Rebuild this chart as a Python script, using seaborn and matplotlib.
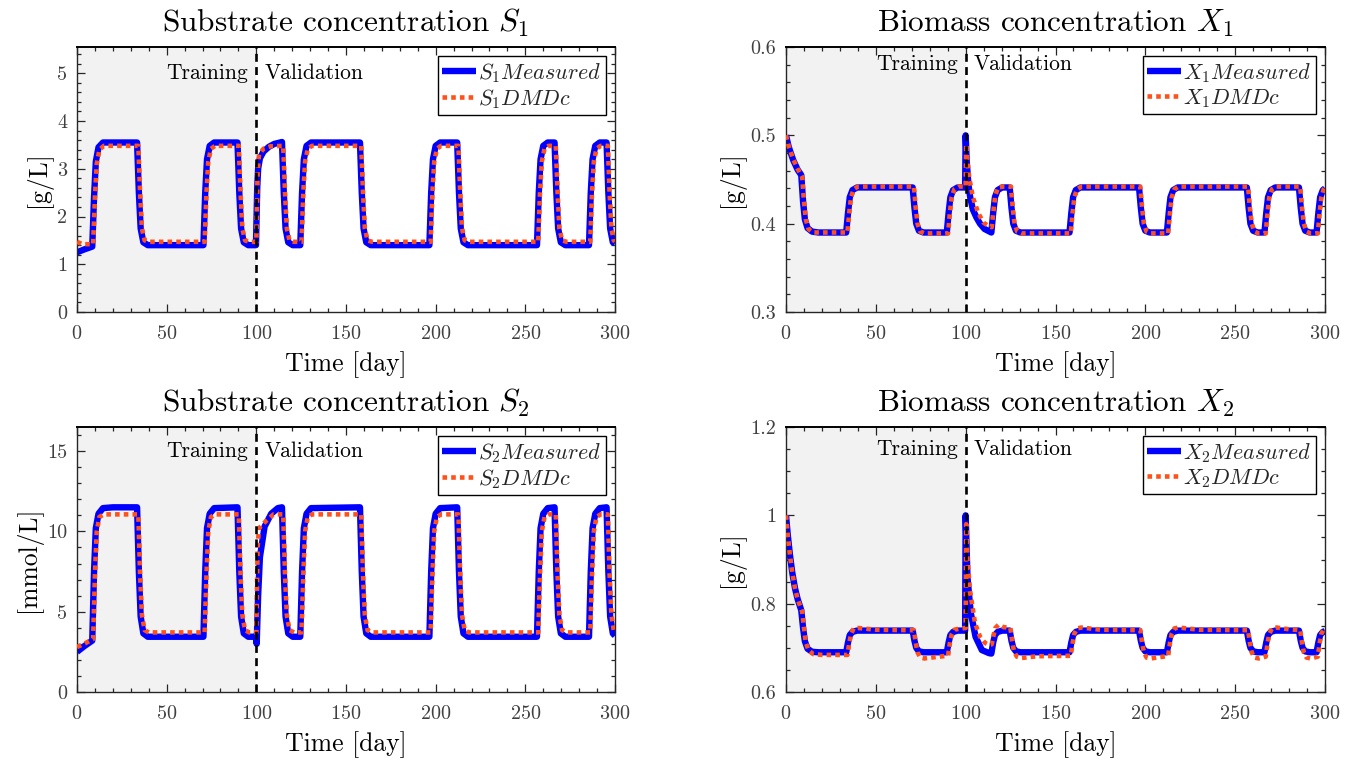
import numpy as np
import matplotlib
matplotlib.use("Agg")
import matplotlib.pyplot as plt
import seaborn as sns
import pandas as pd
from matplotlib.ticker import MultipleLocator, FixedLocator, FixedFormatter

# ---------------- data ----------------
# (time [day], value) knots
S1_measured = [(0,1.25),(4,1.31),(8.5,1.37),
    (9.5,2.4),(10.5,3.15),(12,3.45),(14.5,3.55),
    (33.5,3.55),(34.5,2.5),(35.5,1.75),(37,1.46),(39.5,1.4),
    (70.5,1.4),(71.5,2.5),(72.5,3.2),(74,3.48),(76.5,3.55),
    (89.5,3.55),(90.5,2.5),(91.5,1.75),(93,1.46),(95.5,1.4),
    (99.8,1.4),(100.5,2.6),(101,3.0),(102,3.22),(104,3.36),(107,3.46),(110,3.52),(114.3,3.56),
    (115.3,2.5),(116.3,1.75),(117.8,1.46),(120.3,1.4),
    (124.5,1.4),(125.5,2.5),(126.5,3.2),(128,3.48),(130.5,3.55),
    (157.8,3.55),(158.8,2.5),(159.8,1.75),(161.3,1.46),(163.8,1.4),
    (196.5,1.4),(197.5,2.5),(198.5,3.2),(200,3.48),(202.5,3.55),
    (212,3.55),(213,2.5),(214,1.75),(215.5,1.46),(218,1.4),
    (256.5,1.4),(257.5,2.5),(258.5,3.2),(260,3.48),(262.5,3.55),
    (266.3,3.55),(267.3,2.5),(268.3,1.75),(269.8,1.46),(272.3,1.4),
    (285.5,1.4),(286.5,2.5),(287.5,3.2),(289,3.48),(291.5,3.55),
    (295.3,3.55),(296.3,2.5),(297.3,1.75),(298.8,1.46),(300,1.44)]

S1_dmdc = [(0,1.47),(3,1.42),(9,1.42),
    (10,2.4),(11,3.1),(12.5,3.4),(15,3.48),
    (34.2,3.48),(35.2,2.5),(36.2,1.75),(37.7,1.5),(40,1.47),
    (71.2,1.47),(72.2,2.5),(73.2,3.15),(74.7,3.42),(77,3.48),
    (90.2,3.48),(91.2,2.5),(92.2,1.75),(93.7,1.5),(96,1.47),
    (100,1.47),(100.7,2.9),(101.5,3.3),(104,3.42),(108,3.47),(115,3.48),
    (116,2.5),(117,1.75),(118.5,1.5),(121,1.47),
    (125.2,1.47),(126.2,2.5),(127.2,3.15),(128.7,3.42),(131,3.48),
    (158.5,3.48),(159.5,2.5),(160.5,1.75),(162,1.5),(164.5,1.47),
    (197.2,1.47),(198.2,2.5),(199.2,3.15),(200.7,3.42),(203,3.48),
    (212.7,3.48),(213.7,2.5),(214.7,1.75),(216.2,1.5),(218.5,1.47),
    (257.2,1.47),(258.2,2.5),(259.2,3.15),(260.7,3.42),(263,3.48),
    (267,3.48),(268,2.5),(269,1.75),(270.5,1.5),(273,1.47),
    (286.2,1.47),(287.2,2.5),(288.2,3.15),(289.7,3.42),(292,3.48),
    (296,3.48),(297,2.5),(298,1.75),(299.3,1.5),(300,1.48)]

S2_measured = [(0,2.5),(4,2.85),(8.5,3.2),
    (9.5,7.5),(10.5,10.2),(12,11.1),(14.5,11.45),(20,11.5),
    (33.5,11.5),(34.5,7.5),(35.5,4.7),(37,3.65),(39.5,3.44),
    (70.5,3.44),(71.5,7.5),(72.5,10.2),(74,11.1),(76.5,11.45),
    (89.5,11.5),(90.5,7.5),(91.5,4.7),(93,3.65),(95.5,3.44),
    (99.7,3.44),(100.2,3.0),(101,6.0),(102,8.4),(104.6,10.3),(108.3,11.1),(112,11.45),(114.3,11.5),
    (115.3,7.5),(116.3,4.7),(117.8,3.65),(120.3,3.44),
    (124.5,3.44),(125.5,7.5),(126.5,10.2),(128,11.1),(130.5,11.45),
    (157.8,11.5),(158.8,7.5),(159.8,4.7),(161.3,3.65),(163.8,3.44),
    (196.5,3.44),(197.5,7.5),(198.5,10.2),(200,11.1),(202.5,11.45),
    (212,11.5),(213,7.5),(214,4.7),(215.5,3.65),(218,3.44),
    (256.5,3.44),(257.5,7.5),(258.5,10.2),(260,11.1),(262.5,11.45),
    (266.3,11.5),(267.3,7.5),(268.3,4.7),(269.8,3.65),(272.3,3.44),
    (285.5,3.44),(286.5,7.5),(287.5,10.2),(289,11.1),(291.5,11.45),
    (295.3,11.5),(296.3,7.5),(297.3,4.7),(298.8,3.65),(300,3.5)]

S2_dmdc = [(0,2.8),(4,3.0),(9,3.3),
    (10,7.3),(11,10.0),(12.5,10.9),(15,11.06),
    (34.2,11.06),(35.2,7.3),(36.2,4.8),(37.7,3.85),(40,3.71),
    (71.2,3.71),(72.2,7.3),(73.2,10.0),(74.7,10.9),(77,11.06),
    (90.2,11.06),(91.2,7.3),(92.2,4.8),(93.7,3.85),(96,3.71),
    (100,3.71),(100.7,9.0),(101.5,10.2),(105.9,10.7),(109.6,11.06),(115,11.06),
    (116,7.3),(117,4.8),(118.5,3.85),(121,3.71),
    (125.2,3.71),(126.2,7.3),(127.2,10.0),(128.7,10.9),(131,11.06),
    (158.5,11.06),(159.5,7.3),(160.5,4.8),(162,3.85),(164.5,3.71),
    (197.2,3.71),(198.2,7.3),(199.2,10.0),(200.7,10.9),(203,11.06),
    (212.7,11.06),(213.7,7.3),(214.7,4.8),(216.2,3.85),(218.5,3.71),
    (257.2,3.71),(258.2,7.3),(259.2,10.0),(260.7,10.9),(263,11.06),
    (267,11.06),(268,7.3),(269,4.8),(270.5,3.85),(273,3.71),
    (286.2,3.71),(287.2,7.3),(288.2,10.0),(289.7,10.9),(292,11.06),
    (296,11.06),(297,7.3),(298,4.8),(299.3,3.85),(300,3.75)]

X1_measured = [(0,0.5),(1.5,0.487),(4,0.472),(6.5,0.461),(8.5,0.455),
    (9.5,0.425),(10.5,0.405),(12,0.395),(14.5,0.391),(18,0.39),
    (33.5,0.39),(34.5,0.412),(35.5,0.43),(37,0.438),(39.5,0.441),
    (70.5,0.441),(71.5,0.418),(72.5,0.4),(74,0.392),(76.5,0.39),
    (89.5,0.39),(90.5,0.412),(91.5,0.43),(93,0.438),(95.5,0.441),
    (99.7,0.441),(100,0.5),(100.6,0.47),(101.5,0.445),(102.5,0.43),(104,0.416),(106,0.407),(108,0.4),(110.5,0.394),(114.3,0.39),
    (115.3,0.412),(116.3,0.43),(117.8,0.438),(120.3,0.441),
    (124.5,0.441),(125.5,0.418),(126.5,0.4),(128,0.392),(130.5,0.39),
    (157.8,0.39),(158.8,0.412),(159.8,0.43),(161.3,0.438),(163.8,0.441),
    (196.5,0.441),(197.5,0.418),(198.5,0.4),(200,0.392),(202.5,0.39),
    (212,0.39),(213,0.412),(214,0.43),(215.5,0.438),(218,0.441),
    (256.5,0.441),(257.5,0.418),(258.5,0.4),(260,0.392),(262.5,0.39),
    (266.3,0.39),(267.3,0.412),(268.3,0.43),(269.8,0.438),(272.3,0.441),
    (285.5,0.441),(286.5,0.418),(287.5,0.4),(289,0.392),(291.5,0.39),
    (295.3,0.39),(296.3,0.412),(297.3,0.43),(298.8,0.438),(300,0.44)]

X1_dmdc = [(0,0.5),(1.5,0.488),(4,0.473),(6.5,0.462),(9,0.453),
    (10,0.425),(11,0.405),(12.5,0.394),(15,0.39),
    (34.2,0.39),(35.2,0.412),(36.2,0.43),(37.7,0.439),(40,0.442),
    (71.2,0.442),(72.2,0.418),(73.2,0.4),(74.7,0.391),(77,0.389),
    (90.2,0.389),(91.2,0.412),(92.2,0.43),(93.7,0.439),(96,0.442),
    (100,0.442),(100.3,0.49),(101,0.47),(102,0.452),(104,0.43),(107,0.412),(110,0.401),(113,0.397),(114.5,0.396),
    (115.5,0.415),(116.5,0.432),(118,0.441),(121,0.442),
    (125.2,0.442),(126.2,0.418),(127.2,0.4),(128.7,0.391),(131,0.389),
    (158.5,0.389),(159.5,0.412),(160.5,0.43),(162,0.439),(164.5,0.442),
    (197.2,0.442),(198.2,0.418),(199.2,0.4),(200.7,0.391),(203,0.389),
    (212.7,0.389),(213.7,0.412),(214.7,0.43),(216.2,0.439),(218.5,0.442),
    (257.2,0.442),(258.2,0.418),(259.2,0.4),(260.7,0.391),(263,0.389),
    (267,0.389),(268,0.412),(269,0.43),(270.5,0.439),(273,0.442),
    (286.2,0.442),(287.2,0.418),(288.2,0.4),(289.7,0.391),(292,0.389),
    (296,0.389),(297,0.412),(298,0.43),(299.3,0.439),(300,0.441)]

X2_measured = [(0,1.0),(1,0.955),(2.2,0.91),(3.5,0.87),(5,0.835),(6.5,0.81),(8.5,0.785),
    (9.5,0.745),(10.5,0.715),(12,0.698),(14.5,0.691),(18,0.69),
    (33.5,0.69),(34.5,0.712),(35.5,0.729),(37,0.736),(39.5,0.739),
    (70.5,0.739),(71.5,0.716),(72.5,0.7),(74,0.692),(76.5,0.69),
    (89.5,0.69),(90.5,0.712),(91.5,0.729),(93,0.736),(95.5,0.739),
    (99.7,0.739),(100,1.0),(101,0.86),(102.8,0.78),(105.5,0.725),(109,0.695),(113,0.688),(114.3,0.687),
    (115.3,0.712),(116.3,0.729),(117.8,0.736),(120.3,0.739),
    (124.5,0.739),(125.5,0.716),(126.5,0.7),(128,0.692),(130.5,0.69),
    (157.8,0.69),(158.8,0.712),(159.8,0.729),(161.3,0.736),(163.8,0.739),
    (196.5,0.739),(197.5,0.716),(198.5,0.7),(200,0.692),(202.5,0.69),
    (212,0.69),(213,0.712),(214,0.729),(215.5,0.736),(218,0.739),
    (256.5,0.739),(257.5,0.716),(258.5,0.7),(260,0.692),(262.5,0.69),
    (266.3,0.69),(267.3,0.712),(268.3,0.729),(269.8,0.736),(272.3,0.739),
    (285.5,0.739),(286.5,0.716),(287.5,0.7),(289,0.692),(291.5,0.69),
    (295.3,0.69),(296.3,0.712),(297.3,0.729),(298.8,0.736),(300,0.738)]

X2_dmdc = [(0,1.0),(1,0.955),(2.2,0.91),(3.5,0.87),(5,0.835),(6.5,0.81),(9,0.782),
    (10,0.745),(11,0.712),(12.5,0.695),(15,0.686),(20,0.684),
    (34.2,0.684),(35.2,0.71),(36.2,0.732),(37.7,0.744),(40,0.745),(50,0.741),
    (71.2,0.74),(72.2,0.712),(73.2,0.69),(74.7,0.678),(77,0.676),(85,0.68),
    (90.2,0.682),(91.2,0.71),(92.2,0.73),(93.7,0.741),(96,0.743),
    (100,0.745),(100.3,0.98),(101,0.9),(102.4,0.83),(105.2,0.756),(108,0.725),(110.8,0.711),(113,0.707),(114.5,0.708),
    (115.5,0.728),(116.5,0.745),(118.2,0.752),(121,0.747),(124.9,0.745),
    (125.9,0.715),(126.9,0.692),(128.5,0.68),(131,0.677),(140,0.681),
    (158.5,0.682),(159.5,0.71),(160.5,0.732),(162,0.744),(164.5,0.746),(175,0.741),
    (197.2,0.74),(198.2,0.712),(199.2,0.69),(200.7,0.678),(203,0.676),(210,0.68),
    (212.7,0.682),(213.7,0.71),(214.7,0.732),(216.2,0.744),(218.5,0.746),(230,0.741),
    (257.2,0.74),(258.2,0.712),(259.2,0.69),(260.7,0.678),(263,0.676),(266,0.679),
    (267,0.68),(268,0.71),(269,0.732),(270.5,0.744),(273,0.746),(280,0.742),
    (286.2,0.74),(287.2,0.712),(288.2,0.69),(289.7,0.678),(292,0.676),(295,0.679),
    (296,0.68),(297,0.71),(298,0.732),(299.3,0.742),(300,0.743)]

titles = ["Substrate concentration $S_1$", "Biomass concentration $X_1$",
          "Substrate concentration $S_2$", "Biomass concentration $X_2$"]
ylabels = ["[g/L]", "[g/L]", "[mmol/L]", "[g/L]"]
legend_measured = ["$S_1Measured$", "$X_1Measured$", "$S_2Measured$", "$X_2Measured$"]
legend_dmdc = ["$S_1DMDc$", "$X_1DMDc$", "$S_2DMDc$", "$X_2DMDc$"]
ylims = [(0, 5.55), (0.3, 0.6), (0, 16.5), (0.6, 1.2)]
yticks = [[0, 1, 2, 3, 4, 5], [0.3, 0.4, 0.5, 0.6], [0, 5, 10, 15], [0.6, 0.8, 1.0, 1.2]]
yticklabels = [["0", "1", "2", "3", "4", "5"], ["0.3", "0.4", "0.5", "0.6"],
               ["0", "5", "10", "15"], ["0.6", "0.8", "1", "1.2"]]
yminor = [0.2, 0.02, 1.0, 0.05]
text_y = [5.0, 0.58, 15.0, 1.15]
xticks = [0, 50, 100, 150, 200, 250, 300]
split_day = 100

# ---------------- style ----------------
sns.set_theme(style="ticks")
plt.rcParams["font.family"] = ["cmr10", "DejaVu Serif"]
plt.rcParams["mathtext.fontset"] = "cm"
plt.rcParams["axes.formatter.use_mathtext"] = True
plt.rcParams["axes.unicode_minus"] = False

AX_COL = "#262626"
BLUE = "#0000FF"
ORANGE = "#FF5119"

fig = plt.figure(figsize=(13.57, 7.6), dpi=100)
rects = [[0.05674, 0.58947, 0.39646, 0.34868],
         [0.57922, 0.58947, 0.39720, 0.34868],
         [0.05674, 0.08947, 0.39646, 0.34868],
         [0.57922, 0.08947, 0.39720, 0.34868]]
series = [(S1_measured, S1_dmdc), (X1_measured, X1_dmdc),
          (S2_measured, S2_dmdc), (X2_measured, X2_dmdc)]

for i, rect in enumerate(rects):
    ax = fig.add_axes(rect)
    meas, dmdc = series[i]
    dm = pd.DataFrame(meas, columns=["t", "v"])
    dd = pd.DataFrame(dmdc, columns=["t", "v"])

    ax.axvspan(0, split_day, color="#F2F2F2", zorder=0, lw=0)
    sns.lineplot(data=dm, x="t", y="v", ax=ax, color=BLUE, lw=4.6,
                 estimator=None, sort=False, label=legend_measured[i],
                 solid_joinstyle="round", solid_capstyle="butt", zorder=2)
    sns.lineplot(data=dd, x="t", y="v", ax=ax, color=ORANGE, lw=3.3,
                 estimator=None, sort=False, label=legend_dmdc[i], zorder=3)
    ax.lines[-1].set_dashes((1.0, 0.9))
    ax.lines[-1].set_dash_capstyle("butt")
    ax.axvline(split_day, color="black", lw=1.9, ls=(0, (3, 2.0)), zorder=4)

    ax.text(split_day - 4.5, text_y[i], "Training", ha="right", va="center",
            fontsize=15.5, color="black")
    ax.text(split_day + 4.5, text_y[i], "Validation", ha="left", va="center",
            fontsize=15.5, color="black")

    ax.set_xlim(0, 300)
    ax.set_ylim(*ylims[i])
    ax.xaxis.set_major_locator(FixedLocator(xticks))
    ax.xaxis.set_minor_locator(MultipleLocator(10))
    ax.yaxis.set_major_locator(FixedLocator(yticks[i]))
    ax.yaxis.set_major_formatter(FixedFormatter(yticklabels[i]))
    ax.yaxis.set_minor_locator(MultipleLocator(yminor[i]))
    ax.tick_params(which="both", direction="in", top=True, right=True,
                   colors=AX_COL, labelcolor="#404040", width=0.9)
    ax.tick_params(which="major", length=5.5, labelsize=14.5)
    ax.tick_params(axis="x", which="major", pad=9.5)
    ax.tick_params(axis="y", which="major", pad=7)
    ax.tick_params(which="minor", length=2.8)
    for s in ax.spines.values():
        s.set_color(AX_COL)
        s.set_linewidth(1.0)
    ax.spines["top"].set_color("black")
    ax.spines["top"].set_linewidth(1.4)

    ax.set_title(titles[i], fontsize=22.5, pad=11, color="black")
    ax.set_xlabel("Time [day]", fontsize=18.5, labelpad=6, color="black")
    ax.set_ylabel(ylabels[i], fontsize=18.5, labelpad=4, color="black")

    leg = ax.legend(loc="upper right", fontsize=16, frameon=True, fancybox=False,
                    edgecolor="black", framealpha=1, handlelength=1.5,
                    handletextpad=0.1, labelspacing=0.1, borderpad=0.2,
                    borderaxespad=0.42)
    leg.get_frame().set_linewidth(1.0)

fig.savefig("out.png", dpi=100)
